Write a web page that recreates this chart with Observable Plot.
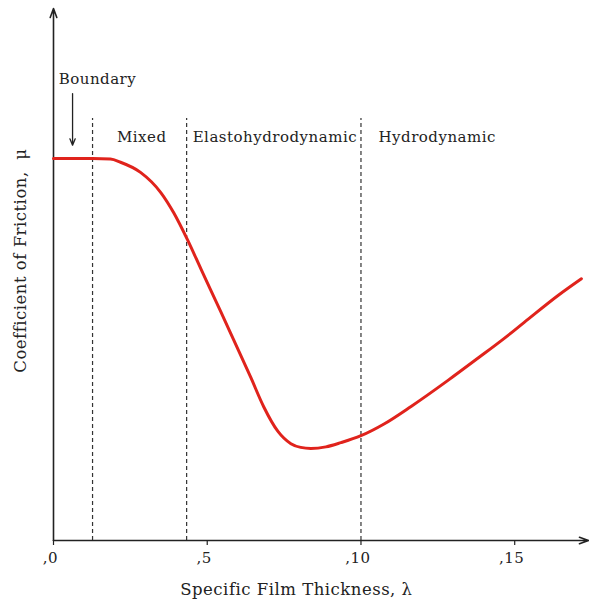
<!DOCTYPE html>
<html>
<head>
<meta charset="utf-8">
<script src="https://cdn.jsdelivr.net/npm/d3@7"></script>
<script src="https://cdn.jsdelivr.net/npm/@observablehq/plot@0.6"></script>
<style>
  html, body { margin: 0; padding: 0; background: #fff; }
</style>
</head>
<body>
<div id="chart"></div>
<script>
// Stribeck curve (arbitrary units for mu)
const lambda = [0, 1.27, 1.85, 2.18, 2.83, 3.49, 3.91, 4.36, 4.79, 5.11, 5.44, 5.86, 6.42, 6.84, 7.30, 7.72, 8.04, 8.37, 8.86, 9.35, 10.0, 10.75, 11.63, 12.83, 13.81, 14.66, 15.31, 16.42, 17.17];
const mu     = [71.8, 71.8, 71.7, 71.1, 69.2, 65.4, 61.6, 56.5, 51.1, 47.1, 43.0, 37.7, 30.6, 25.1, 20.5, 18.2, 17.5, 17.3, 17.6, 18.4, 19.7, 21.9, 25.2, 30.1, 34.3, 38.0, 41.0, 46.1, 49.2];

// Regime boundaries (dashed lines)
const boundaries = [1.27, 4.33, 10.0];

// Regime labels
const regimeNames = ["Mixed", "Elastohydrodynamic", "Hydrodynamic"];
const regimeX = [2.87, 7.2, 12.48];

const boundaryLabel = "Boundary";
const xTicks = [0, 5, 10, 15];
const xTickLabels = [",0", ",5", ",10", ",15"];
const xTitle = "Specific Film Thickness, λ";
const yTitle = "Coefficient of Friction,  μ";

const curve = lambda.map((l, i) => ({lambda: l, mu: mu[i]}));

const chart = Plot.plot({
  width: 589,
  height: 603,
  marginLeft: 53,
  marginRight: 1,
  marginTop: 8,
  marginBottom: 63,
  x: {domain: [0, 17.4], axis: null},
  y: {domain: [0, 100], axis: null},
  style: {fontFamily: "'DejaVu Serif', serif", background: "#fff", color: "#222", letterSpacing: "0.5px"},
  marks: [
    // dashed regime boundaries
    Plot.ruleX(boundaries, {x: d => d, y1: 0, y2: 79.3, stroke: "#333", strokeWidth: 1.2, strokeDasharray: "4,3"}),
    // axes with arrow heads
    Plot.arrow([0], {x1: 0, y1: 0, x2: 0, y2: 100, stroke: "#222", strokeWidth: 1.6, headLength: 9, headAngle: 40}),
    Plot.arrow([0], {x1: 0, y1: 0, x2: 17.4, y2: 0, stroke: "#222", strokeWidth: 1.6, headLength: 9, headAngle: 40}),
    // x ticks
    Plot.ruleX(xTicks, {x: d => d, y1: 0, y2: 0, insetBottom: -5, stroke: "#222", strokeWidth: 1.2}),
    Plot.text(xTicks, {x: d => d, y: 0, text: (d, i) => xTickLabels[i], dy: 18, dx: -3, fontSize: 15, fill: "#222"}),
    // curve
    Plot.line(curve, {x: "lambda", y: "mu", stroke: "#e0231c", strokeWidth: 3, curve: "monotone-x"}),
    // boundary label and arrow
    Plot.text([boundaryLabel], {x: 1.43, y: 86.8, text: d => d, fontSize: 15, fill: "#222"}),
    Plot.arrow([0], {x1: 0.62, y1: 84.0, x2: 0.62, y2: 74.3, stroke: "#222", strokeWidth: 1.3, headLength: 8, headAngle: 45}),
    // regime labels
    Plot.text(regimeNames, {x: (d, i) => regimeX[i], y: 75.9, text: d => d, fontSize: 15, fill: "#222"}),
    // axis titles
    Plot.text([xTitle], {x: 7.9, y: 0, text: d => d, dy: 49, fontSize: 16.5, fill: "#222"}),
    Plot.text([yTitle], {frameAnchor: "left", dx: -33, y: 52.6, text: d => d, rotate: -90, textAnchor: "middle", fontSize: 16.5, fill: "#222"})
  ]
});
document.getElementById("chart").appendChild(chart);
</script>
</body>
</html>
